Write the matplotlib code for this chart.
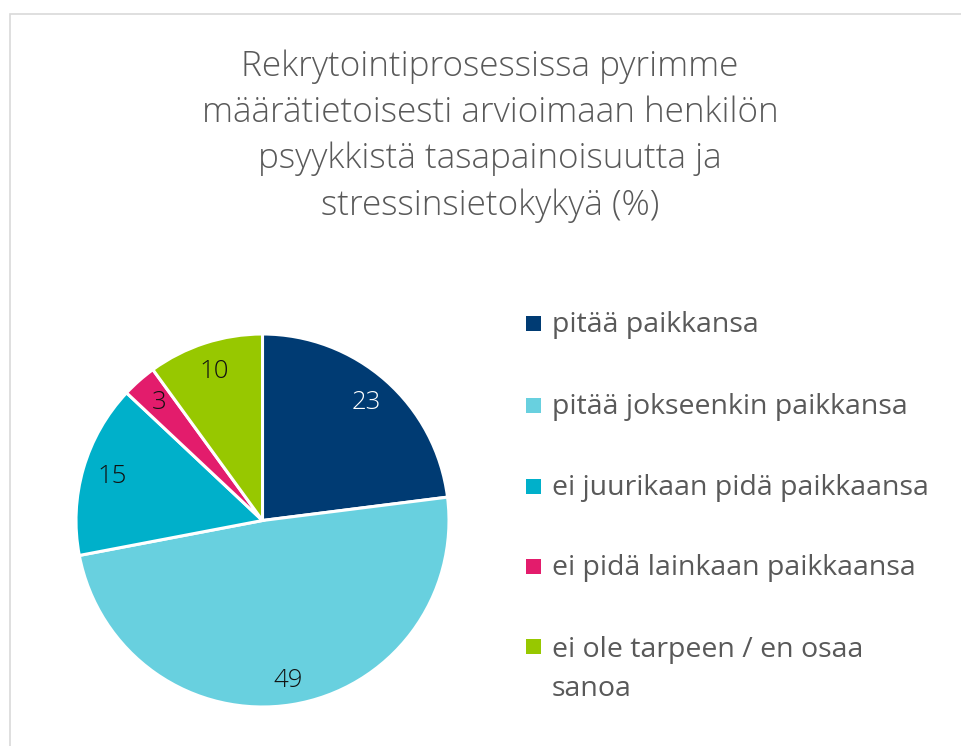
import matplotlib.pyplot as plt
from matplotlib.patches import Rectangle
import numpy as np

# data
labels = ['pitää paikkansa', 'pitää jokseenkin paikkansa', 'ei juurikaan pidä paikkaansa',
          'ei pidä lainkaan paikkaansa', 'ei ole tarpeen / en osaa\nsanoa']
values = [23, 49, 15, 3, 10]
colors = ['#003B73', '#68D0DF', '#00B0CA', '#E31C6C', '#97C800']
label_colors = ['white', '#111111', '#111111', '#111111', '#111111']
title = ('Rekrytointiprosessissa pyrimme\nmäärätietoisesti arvioimaan henkilön\n'
         'psyykkistä tasapainoisuutta ja\nstressinsietokykyä (%)')

plt.rcParams['font.family'] = ['Open Sans', 'DejaVu Sans']

W, H = 961, 746
fig = plt.figure(figsize=(W / 100, H / 100), dpi=100)

# light border (chart frame, cut at right/bottom)
fig.patches.append(Rectangle((10 / W, -0.1), 1.2, (H - 14) / H + 0.1,
                             transform=fig.transFigure, fill=False,
                             edgecolor='#d9d9d9', linewidth=1.2))

fig.text(490 / W, 1 - 136 / H, title, ha='center', va='center', fontsize=25.3,
         color='#595959', fontweight='light', linespacing=1.45)

# pie: centre (262,520) px, radius 186 px
ax = fig.add_axes([76 / W, 1 - 707 / H, 373 / W, 373 / H])
wedges, _ = ax.pie(values, colors=colors, startangle=90, counterclock=False,
                   radius=1, wedgeprops=dict(edgecolor='white', linewidth=2.2))
ax.set_xlim(-1, 1)
ax.set_ylim(-1, 1)
ax.set_aspect('equal')
ax.axis('off')

for v, w, c in zip(values, wedges, label_colors):
    mid = np.deg2rad((w.theta1 + w.theta2) / 2)
    d = 0.84 if v != 49 else 0.87
    ax.text(d * np.cos(mid), d * np.sin(mid), str(v), ha='center', va='center',
            fontsize=18.5, color=c, fontweight='light')

# legend
ys = [325, 407, 488, 568, 648]
for lab, col, y in zip(labels, colors, ys):
    fig.patches.append(Rectangle((526 / W, 1 - (y + 6) / H), 15 / W, 15 / H,
                                 transform=fig.transFigure, facecolor=col,
                                 edgecolor='none'))
    if '\n' in lab:
        fig.text(552 / W, 1 - (y - 12) / H, lab, ha='left', va='top',
                 fontsize=20.5, color='#595959', linespacing=1.5)
    else:
        fig.text(552 / W, 1 - y / H, lab, ha='left', va='center',
                 fontsize=20.5, color='#595959')

fig.savefig('out.png', dpi=100)
